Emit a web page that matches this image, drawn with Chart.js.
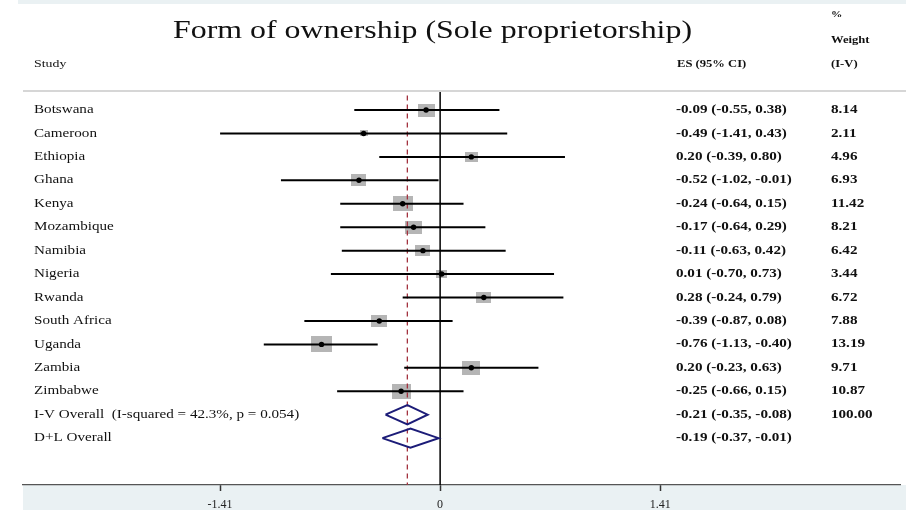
<!DOCTYPE html>
<html>
<head>
<meta charset="utf-8">
<script src="https://cdn.jsdelivr.net/npm/chart.js@4.4.0/dist/chart.umd.min.js"></script>
<style>
  html, body { margin: 0; padding: 0; background: #ffffff; }
  #wrap { width: 906px; height: 510px; }
</style>
</head>
<body>
<div id="wrap"><canvas id="c" width="906" height="510"></canvas></div>
<script>
// ---------------- data ----------------
const titleText = 'Form of ownership (Sole proprietorship)';
const studies = ['Botswana', 'Cameroon', 'Ethiopia', 'Ghana', 'Kenya', 'Mozambique', 'Namibia',
                 'Nigeria', 'Rwanda', 'South Africa', 'Uganda', 'Zambia', 'Zimbabwe'];
const es      = [-0.09, -0.49, 0.20, -0.52, -0.24, -0.17, -0.11, 0.01, 0.28, -0.39, -0.76, 0.20, -0.25];
const ciLow   = [-0.55, -1.41, -0.39, -1.02, -0.64, -0.64, -0.63, -0.70, -0.24, -0.87, -1.13, -0.23, -0.66];
const ciHigh  = [0.38, 0.43, 0.80, -0.01, 0.15, 0.29, 0.42, 0.73, 0.79, 0.08, -0.40, 0.63, 0.15];
const weights = [8.14, 2.11, 4.96, 6.93, 11.42, 8.21, 6.42, 3.44, 6.72, 7.88, 13.19, 9.71, 10.87];

const overallLabels = ['I-V Overall  (I-squared = 42.3%, p = 0.054)', 'D+L Overall'];
const overallES     = [-0.21, -0.19];
const overallLow    = [-0.35, -0.37];
const overallHigh   = [-0.08, -0.01];
const overallWeight = ['100.00', ''];

const xTickValues = [-1.41, 0, 1.41];
const xTickLabels = ['-1.41', '0', '1.41'];

// ---------------- scale limits / styling ----------------
const X_MIN = -2.673, X_MAX = 2.947;
const ROW_MIN = 0.232, ROW_MAX = 17.0;
const SX = 1.26;             // horizontal text stretch of the reference
const DIAMOND_HALF = 0.41;   // half height of diamonds in row units
const SERIF = '"Liberation Serif", "DejaVu Serif", serif';

const studyRows = studies.map((_, i) => i + 1);
const overallRows = overallLabels.map((_, i) => studies.length + 1 + i);

// square marker canvases (area proportional to weight)
const squareCache = {};
function squareFor(w) {
  if (squareCache[w]) return squareCache[w];
  const s = Math.sqrt(w);
  const cv = document.createElement('canvas');
  cv.width = Math.max(2, Math.round(5.8 * s));
  cv.height = Math.max(2, Math.round(4.4 * s));
  const g = cv.getContext('2d');
  g.fillStyle = '#b5b5b5';
  g.fillRect(0, 0, cv.width, cv.height);
  squareCache[w] = cv;
  return cv;
}

const datasets = [];
// squares
datasets.push({
  type: 'scatter',
  data: studyRows.map((r, i) => ({ x: es[i], y: r })),
  pointStyle: (ctx) => squareFor(weights[ctx.dataIndex]),
  pointRadius: 5,
  order: 10
});
// zero line
datasets.push({
  type: 'line',
  data: [{ x: 0, y: ROW_MIN }, { x: 0, y: ROW_MAX }],
  borderColor: '#000000', borderWidth: 1.5, pointRadius: 0, order: 8
});
// overall dashed line
datasets.push({
  type: 'line',
  data: [{ x: overallES[0], y: ROW_MIN + 0.15 }, { x: overallES[0], y: ROW_MAX }],
  borderColor: '#a3323f', borderWidth: 1.3, borderDash: [5, 4], pointRadius: 0, order: 7
});
// CI lines
studyRows.forEach((r, i) => {
  datasets.push({
    type: 'line',
    data: [{ x: ciLow[i], y: r }, { x: ciHigh[i], y: r }],
    borderColor: '#000000', borderWidth: 2, pointRadius: 0, order: 5
  });
});
// diamonds
overallRows.forEach((r, i) => {
  datasets.push({
    type: 'line',
    data: [
      { x: overallLow[i], y: r },
      { x: overallES[i], y: r - DIAMOND_HALF },
      { x: overallHigh[i], y: r },
      { x: overallES[i], y: r + DIAMOND_HALF },
      { x: overallLow[i], y: r }
    ],
    borderColor: '#1c1c78', borderWidth: 2, pointRadius: 0, tension: 0, fill: false, order: 3
  });
});
// dots
datasets.push({
  type: 'scatter',
  data: studyRows.map((r, i) => ({ x: es[i], y: r })),
  pointStyle: 'circle', pointRadius: 2.7,
  backgroundColor: '#000000', borderColor: '#000000', borderWidth: 0,
  order: 1
});

function txt(ctx, s, x, y, font, align, sx, baseline) {
  ctx.save();
  ctx.font = font;
  ctx.textBaseline = baseline || 'middle';
  ctx.fillStyle = '#111111';
  const w = ctx.measureText(s).width * sx;
  let left = x;
  if (align === 'center') left = x - w / 2;
  else if (align === 'right') left = x - w;
  ctx.translate(left, y);
  ctx.scale(sx, 1);
  ctx.textAlign = 'left';
  ctx.fillText(s, 0, 0);
  ctx.restore();
}

const f2 = (v) => v.toFixed(2);

const backdrop = {
  id: 'backdrop',
  beforeDraw(chart) {
    const ctx = chart.ctx;
    const a = chart.chartArea;
    ctx.save();
    ctx.fillStyle = '#ffffff';
    ctx.fillRect(0, 0, chart.width, chart.height);
    ctx.fillStyle = '#eaf1f3';
    ctx.fillRect(18, 0, chart.width - 18, 4);
    ctx.fillRect(a.left, a.bottom, chart.width - a.left, chart.height - a.bottom);
    ctx.strokeStyle = '#c9c9c9';
    ctx.lineWidth = 1.5;
    ctx.beginPath();
    ctx.moveTo(a.left, a.top - 1);
    ctx.lineTo(chart.width, a.top - 1);
    ctx.stroke();
    ctx.restore();
  }
};

const textCols = {
  id: 'textCols',
  afterDraw(chart) {
    const ctx = chart.ctx;
    const y = chart.scales.y;
    const nameX = 34, esX = 676, wX = 831;
    // title: stretch to reference width
    ctx.save();
    ctx.font = '25px ' + SERIF;
    const tw = ctx.measureText(titleText).width;
    ctx.restore();
    txt(ctx, titleText, 432.5, 38, '25px ' + SERIF, 'center', 519 / tw, 'alphabetic');
    // headers
    txt(ctx, '%', wX, 15, 'bold 9px ' + SERIF, 'left', SX);
    txt(ctx, 'Weight', wX, 40, 'bold 10px ' + SERIF, 'left', SX);
    txt(ctx, '(I-V)', wX, 64, 'bold 10px ' + SERIF, 'left', SX);
    txt(ctx, 'ES (95% CI)', esX + 1, 64, 'bold 10px ' + SERIF, 'left', SX);
    txt(ctx, 'Study', nameX, 64, '11px ' + SERIF, 'left', SX);
    // rows
    studyRows.forEach((r, i) => {
      const py = y.getPixelForValue(r);
      txt(ctx, studies[i], nameX, py, '12px ' + SERIF, 'left', SX);
      txt(ctx, f2(es[i]) + ' (' + f2(ciLow[i]) + ', ' + f2(ciHigh[i]) + ')', esX, py, 'bold 12px ' + SERIF, 'left', SX);
      txt(ctx, f2(weights[i]), wX, py, 'bold 12px ' + SERIF, 'left', SX);
    });
    overallRows.forEach((r, i) => {
      const py = y.getPixelForValue(r);
      txt(ctx, overallLabels[i], nameX, py, '12px ' + SERIF, 'left', SX);
      txt(ctx, f2(overallES[i]) + ' (' + f2(overallLow[i]) + ', ' + f2(overallHigh[i]) + ')', esX, py, 'bold 12px ' + SERIF, 'left', SX);
      if (overallWeight[i]) txt(ctx, overallWeight[i], wX, py, 'bold 12px ' + SERIF, 'left', SX);
    });
  }
};

new Chart(document.getElementById('c'), {
  type: 'scatter',
  data: { datasets },
  options: {
    responsive: false,
    animation: false,
    events: [],
    layout: { padding: { left: 23, right: 0, top: 92, bottom: 0 } },
    plugins: { legend: { display: false }, tooltip: { enabled: false }, title: { display: false } },
    scales: {
      x: {
        type: 'linear', min: X_MIN, max: X_MAX,
        afterBuildTicks: (s) => { s.ticks = xTickValues.map(v => ({ value: v })); },
        afterFit: (s) => { s.height = 25; },
        grid: { display: true, drawOnChartArea: false, drawTicks: true, tickLength: 6, tickColor: '#333333', tickWidth: 1.5 },
        border: { display: true, color: '#555555', width: 1.2 },
        ticks: {
          autoSkip: false, maxRotation: 0, padding: 7, color: '#222222',
          font: { family: SERIF, size: 12 },
          callback: (v, i) => xTickLabels[i]
        }
      },
      y: { type: 'linear', reverse: true, min: ROW_MIN, max: ROW_MAX, display: false }
    }
  },
  plugins: [backdrop, textCols]
});
</script>
</body>
</html>
